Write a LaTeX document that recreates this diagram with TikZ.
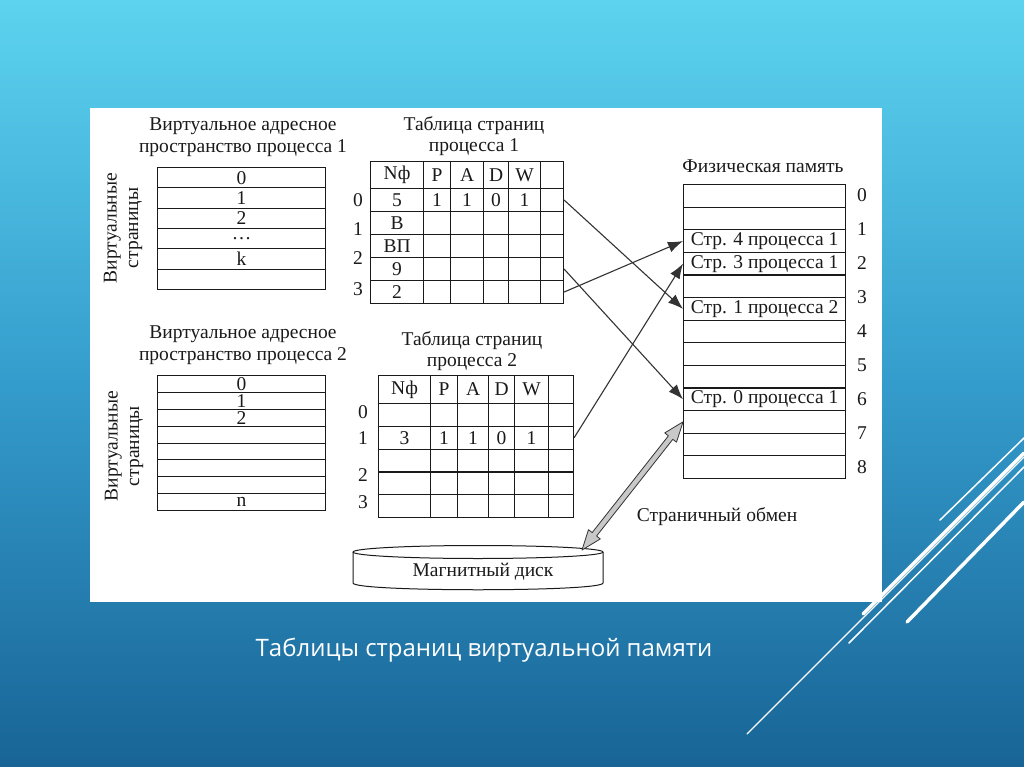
\documentclass[tikz,border=0pt]{standalone}
\usepackage{fontspec}
\setmainfont{Liberation Serif}
\newfontfamily\capfont{Open Sans}
\usepackage{tikz}
\usetikzlibrary{arrows.meta,calc}
\definecolor{bgtop}{HTML}{5DD3EF}
\definecolor{bgmid}{HTML}{349CCC}
\definecolor{bgbot}{HTML}{186496}
\definecolor{ink}{HTML}{1A1A1A}
\definecolor{edge}{HTML}{333333}
\definecolor{swap}{HTML}{C8C8C8}
\newcommand\diagfont{\fontsize{19.5}{21.5}\selectfont}
\tikzset{
  cell/.style  = {rectangle, draw=ink, line width=1.1pt, inner sep=0pt, anchor=north west,
                  font=\diagfont, text=ink},
  ttl/.style   = {align=center, font=\diagfont, text=ink, inner sep=0pt},
  num/.style   = {font=\diagfont, text=ink, inner sep=0pt},
  fl/.style    = {-{Latex[length=15pt,width=11pt]}, line width=1.1pt, draw=edge},
  deco/.style  = {draw=white, line cap=round},
}

\begin{document}
\begin{tikzpicture}[x=1pt,y=-1pt]
\shade[top color=bgtop, bottom color=bgbot, middle color=bgmid] (0,0) rectangle (1024,767);
\useasboundingbox (0,0) rectangle (1024,767);
\fill[white] (90,108) rectangle (882,602);
% process 1
\node[ttl] (va1-t) at (243,137) {Виртуальное адресное\\пространство процесса 1};
\node[ttl, rotate=90] (va1-s) at (123,228) {Виртуальные\\страницы};
\foreach \t [count=\i from 0] in {0,1,2,\ldots,k,{}}
  \node[cell, minimum width=168, minimum height=20.33] (va1-\i) at (157,{167+20.33*\i}) {\t};
\node[ttl] (pt1-t) at (474,136) {Таблица страниц\\процесса 1};
\foreach \r/\y/\h/\ta/\tb/\tc/\td/\te in {h/161/27/Nф/P/A/D/W, 0/188/23/5/1/1/0/1,
    1/211/23/В/{}/{}/{}/{}, 2/234/23/ВП/{}/{}/{}/{}, 3/257/23/9/{}/{}/{}/{}, 4/280/23/2/{}/{}/{}/{}} {
  \node[cell, minimum width=53, minimum height=\h] (pt1-\r-1) at (370,\y) {\ta};
  \node[cell, minimum width=27, minimum height=\h] (pt1-\r-2) at (423,\y) {\tb};
  \node[cell, minimum width=33, minimum height=\h] (pt1-\r-3) at (450,\y) {\tc};
  \node[cell, minimum width=25, minimum height=\h] (pt1-\r-4) at (483,\y) {\td};
  \node[cell, minimum width=32, minimum height=\h] (pt1-\r-5) at (508,\y) {\te};
  \node[cell, minimum width=23, minimum height=\h] (pt1-\r-6) at (540,\y) {};
}
\foreach \t/\y in {0/200,1/229,2/258,3/289}
  \node[num] (pt1-n\t) at (358,\y) {\t};
% process 2
\node[ttl] (va2-t) at (243,345) {Виртуальное адресное\\пространство процесса 2};
\node[ttl, rotate=90] (va2-s) at (124,446) {Виртуальные\\страницы};
\foreach \t [count=\i from 0] in {0,1,2,{},{},{},{},n}
  \node[cell, minimum width=168, minimum height=16.875] (va2-\i) at (157,{375+16.875*\i}) {\t};
\node[ttl] (pt2-t) at (472,351) {Таблица страниц\\процесса 2};
\foreach \r/\y/\h/\ta/\tb/\tc/\td/\te in {h/375/28/Nф/P/A/D/W, 0/403/22.8/{}/{}/{}/{}/{},
    1/425.8/22.8/3/1/1/0/1, 2/448.6/22.8/{}/{}/{}/{}/{}, 3/471.4/22.8/{}/{}/{}/{}/{}, 4/494.2/22.8/{}/{}/{}/{}/{}} {
  \node[cell, minimum width=52, minimum height=\h] (pt2-\r-1) at (378,\y) {\ta};
  \node[cell, minimum width=27, minimum height=\h] (pt2-\r-2) at (430,\y) {\tb};
  \node[cell, minimum width=31, minimum height=\h] (pt2-\r-3) at (457,\y) {\tc};
  \node[cell, minimum width=26, minimum height=\h] (pt2-\r-4) at (488,\y) {\td};
  \node[cell, minimum width=34, minimum height=\h] (pt2-\r-5) at (514,\y) {\te};
  \node[cell, minimum width=25, minimum height=\h] (pt2-\r-6) at (548,\y) {};
}
\foreach \t/\y in {0/412,1/438,2/475,3/502}
  \node[num] (pt2-n\t) at (363,\y) {\t};
% physical memory
\node[ttl] (mem-t) at (763,166) {Физическая память};
\foreach \t [count=\i from 0] in {{},{},Стр. 4 процесса 1,Стр. 3 процесса 1,{},Стр. 1 процесса 2,
    {},{},{},Стр. 0 процесса 1,{},{},{}}
  \node[cell, minimum width=162, minimum height=22.6] (mem-\i) at (683,{184+22.6*\i}) {\t};
\foreach \i in {0,...,8}
  \node[num] (mnum-\i) at (862,{195+34*\i}) {\i};
% disk
\filldraw[fill=white, draw=ink, line width=1pt] (353,552) -- (353,583)
  .. controls (353,592) and (603,592) .. (603,583) -- (603,552);
\filldraw[fill=white, draw=ink, line width=1pt] (478,552) ellipse [x radius=125, y radius=6.5];
\node[ttl] (disk) at (483,572) {Магнитный диск};
\coordinate (disk-io) at (582,550);
\node[ttl] (swap-t) at (717,517) {Страничный обмен};
% edges
\draw[fl] (pt1-0-6.east) -- (mem-5.west);
\draw[fl] (pt1-3-6.east) -- (mem-9.west);
\draw[fl] (pt1-4-6.east) -- (mem-2.west);
\draw[fl] (pt2-1-6.east) -- (mem-3.west);
\coordinate (sw-a) at (disk-io);
\coordinate (sw-b) at (mem-10.west);
\coordinate (sw-h1) at ($(sw-a)!20pt!(sw-b)$);
\coordinate (sw-h2) at ($(sw-b)!20pt!(sw-a)$);
\filldraw[fill=swap, draw=edge, line width=0.8pt, line join=round]
  (sw-a) -- ($(sw-h1)!7.5pt!90:(sw-b)$) -- ($(sw-h1)!2.8pt!90:(sw-b)$)
  -- ($(sw-h2)!2.8pt!90:(sw-b)$) -- ($(sw-h2)!7.5pt!90:(sw-b)$) -- (sw-b)
  -- ($(sw-h2)!7.5pt!-90:(sw-b)$) -- ($(sw-h2)!2.8pt!-90:(sw-b)$)
  -- ($(sw-h1)!2.8pt!-90:(sw-b)$) -- ($(sw-h1)!7.5pt!-90:(sw-b)$) -- cycle;
% slide
\node[font=\capfont\fontsize{24}{28}\selectfont, text=white] (cap) at (484,650) {Таблицы страниц виртуальной памяти};
\draw[deco, line width=1.5pt] (940,520) -- (1024,438);
\draw[deco, line width=3.5pt] (863,614) -- (1024,453);
\draw[deco, line width=1.5pt] (849,643) -- (1024,467);
\draw[deco, line width=3.5pt] (907,622) -- (1024,502);
\draw[deco, line width=1.2pt] (747,734) -- (1024,457);
\end{tikzpicture}
\end{document}
